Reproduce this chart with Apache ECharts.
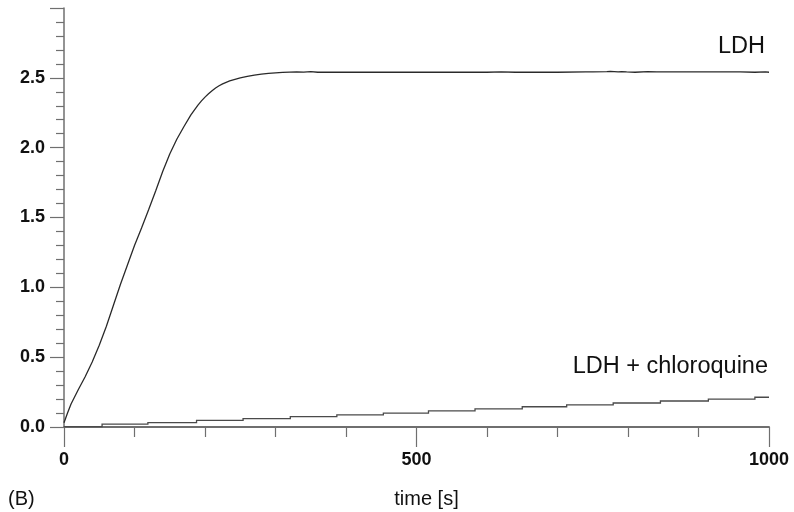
<!DOCTYPE html>
<html>
<head>
<meta charset="utf-8">
<script src="https://cdn.jsdelivr.net/npm/echarts@6/dist/echarts.min.js"></script>
<style>
html,body{margin:0;padding:0;background:#fff;}
#chart{width:794px;height:512px;}
</style>
</head>
<body>
<div id="chart"></div>
<script>
// ---- data ----
var ldhTime = [0, 5, 10, 20, 30, 40, 50, 60, 70, 80, 90, 100, 110, 120, 130, 140, 150, 160, 170, 180, 190, 195, 200, 205, 210, 215, 220, 225, 230, 235, 240, 250, 260, 270, 280, 290, 300, 310, 320, 330, 340, 350, 360, 380, 400, 450, 500, 550, 600, 620, 640, 660, 700, 740, 750, 770, 775, 786, 791, 798, 810, 828, 841, 850, 864, 883, 892, 912, 931, 959, 980, 995, 1000];
var ldhValue = [0.03, 0.10, 0.165, 0.265, 0.36, 0.465, 0.585, 0.72, 0.87, 1.02, 1.16, 1.30, 1.425, 1.555, 1.69, 1.83, 1.955, 2.06, 2.15, 2.235, 2.305, 2.335, 2.362, 2.386, 2.408, 2.427, 2.443, 2.457, 2.468, 2.478, 2.486, 2.50, 2.51, 2.519, 2.526, 2.532, 2.536, 2.539, 2.541, 2.543, 2.541, 2.544, 2.54, 2.54, 2.54, 2.54, 2.54, 2.54, 2.54, 2.543, 2.54, 2.54, 2.54, 2.543, 2.542, 2.544, 2.546, 2.543, 2.545, 2.542, 2.54, 2.544, 2.543, 2.542, 2.543, 2.542, 2.542, 2.543, 2.542, 2.542, 2.54, 2.542, 2.54];

var cqTime = [0, 54, 119, 188, 254, 321, 387, 453, 517, 583, 650, 713, 779, 846, 914, 980, 1000];
var cqValue = [0.003, 0.02, 0.032, 0.047, 0.06, 0.075, 0.087, 0.099, 0.115, 0.13, 0.145, 0.158, 0.172, 0.186, 0.2, 0.213, 0.213];

var yTickLabels = ['0.0', '0.5', '1.0', '1.5', '2.0', '2.5'];
var xTickLabels = ['0', '500', '1000'];
var seriesNames = ['LDH', 'LDH + chloroquine'];

function pairs(t, v) { return t.map(function (x, i) { return [x, v[i]]; }); }

var chart = echarts.init(document.getElementById('chart'), null, {renderer: 'canvas'});
var axisColor = '#6f6f6f';
var font = 'Liberation Sans, Arial, Helvetica, sans-serif';

// step line (step at end of each interval) drawn through the axis scales
function renderStep(params, api) {
  if (params.dataIndex !== 0) return null;
  var pts = [];
  for (var i = 0; i < cqTime.length; i++) {
    pts.push(api.coord([cqTime[i], cqValue[i]]));
    if (i < cqTime.length - 1) pts.push(api.coord([cqTime[i + 1], cqValue[i]]));
  }
  return {
    type: 'polyline',
    shape: {points: pts},
    style: {stroke: '#4a4a4a', lineWidth: 1.3, fill: null},
    silent: true
  };
}

chart.setOption({
  animation: false,
  backgroundColor: '#ffffff',
  grid: {left: 64, right: 25, top: 8, bottom: 85, containLabel: false, outerBoundsMode: 'none'},
  xAxis: {
    type: 'value', min: 0, max: 1000, interval: 500,
    name: 'time [s]', nameLocation: 'middle', nameGap: 62,
    nameTextStyle: {fontFamily: font, fontSize: 20, color: '#111', padding: [0, 0, 0, 20]},
    axisLine: {show: true, onZero: false, lineStyle: {color: axisColor, width: 2}},
    axisTick: {show: true, length: 20, lineStyle: {color: axisColor, width: 1.2}},
    minorTick: {show: true, splitNumber: 5, length: 10, lineStyle: {color: axisColor, width: 1.2}},
    splitLine: {show: false},
    axisLabel: {
      margin: 24, fontFamily: font, fontSize: 18, fontWeight: 'bold', color: '#111',
      formatter: function (v) { var i = xTickLabels.indexOf(String(v)); return i >= 0 ? xTickLabels[i] : ''; }
    }
  },
  yAxis: {
    type: 'value', min: 0, max: 3, interval: 0.5,
    axisLine: {show: true, onZero: false, lineStyle: {color: axisColor, width: 1.5}},
    axisTick: {show: true, length: 14, lineStyle: {color: axisColor, width: 1.2}},
    minorTick: {show: true, splitNumber: 5, length: 8, lineStyle: {color: axisColor, width: 1.2}},
    splitLine: {show: false},
    axisLabel: {
      margin: 19, fontFamily: font, fontSize: 18, fontWeight: 'bold', color: '#111',
      formatter: function (v) { var idx = Math.round(v / 0.5); return idx < yTickLabels.length ? yTickLabels[idx] : ''; }
    }
  },
  series: [
    {
      name: seriesNames[0], type: 'line', data: pairs(ldhTime, ldhValue),
      showSymbol: false, smooth: false,
      lineStyle: {color: '#2a2a2a', width: 1.3}
    },
    {
      name: seriesNames[1], type: 'custom', data: pairs(cqTime, cqValue),
      renderItem: renderStep,
      encode: {x: 0, y: 1}
    }
  ],
  graphic: [
    {type: 'text', right: 29, top: 35, style: {text: seriesNames[0], font: '23.5px ' + font, fill: '#111'}},
    {type: 'text', right: 26, top: 355, style: {text: seriesNames[1], font: '23.5px ' + font, fill: '#111'}},
    {type: 'text', left: 8, top: 489, style: {text: '(B)', font: '20px ' + font, fill: '#111'}}
  ]
});
</script>
</body>
</html>
